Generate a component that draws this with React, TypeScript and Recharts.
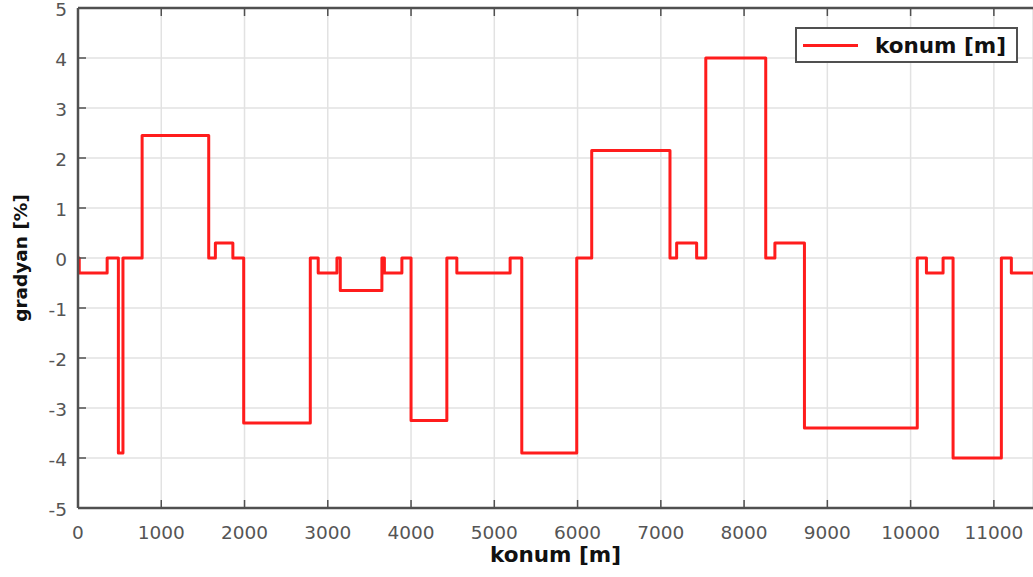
import React from "react";
import {
  LineChart, Line, XAxis, YAxis, CartesianGrid, ReferenceLine,
} from "recharts";

// step profile: segment start positions [m] and the grade [%] held from each start
const segStarts = [
  0, 15, 350, 485, 540, 770, 1570, 1650, 1860, 1990, 2790, 2885, 3110, 3150,
  3650, 3680, 3890, 4000, 4430, 4550, 5190, 5330, 5990, 6170, 7110, 7190,
  7430, 7540, 8260, 8370, 8725, 10080, 10190, 10390, 10510, 11090, 11210,
];
const segGrades = [
  0, -0.3, 0, -3.9, 0, 2.45, 0, 0.3, 0, -3.3, 0, -0.3, 0, -0.65,
  0, -0.3, 0, -3.25, 0, -0.3, 0, -3.9, 0, 2.15, 0, 0.3,
  0, 4.0, 0, 0.3, -3.4, 0, -0.3, 0, -4.0, 0, -0.3,
];
const routeEnd = 11470;

const xTicks = [0, 1000, 2000, 3000, 4000, 5000, 6000, 7000, 8000, 9000, 10000, 11000];
const yTicks = [-5, -4, -3, -2, -1, 0, 1, 2, 3, 4, 5];

const AXIS = "#505050";
const TICK_TEXT = "#555555";
const RED = "#ff1c1c";
const TICK_FONT = "DejaVu Sans, Verdana, sans-serif";

// each segment contributes its start and end, so neighbours give vertical jumps
const profile: { konum: number; grade: number }[] = [];
segStarts.forEach((s, i) => {
  const e = i + 1 < segStarts.length ? segStarts[i + 1] : routeEnd;
  profile.push({ konum: s, grade: segGrades[i] });
  profile.push({ konum: e, grade: segGrades[i] });
});

const XTick = (p: any) => (
  <g>
    <line x1={p.x} x2={p.x} y1={p.y} y2={p.y - 8} stroke={AXIS} strokeWidth={1.5} />
    <text x={p.x} y={p.y + 31} textAnchor="middle" fill={TICK_TEXT}
      style={{ fontFamily: TICK_FONT, fontSize: 18.5 }}>
      {p.payload.value}
    </text>
  </g>
);

const YTick = (p: any) => (
  <g>
    <line x1={p.x} x2={p.x + 8} y1={p.y} y2={p.y} stroke={AXIS} strokeWidth={1.5} />
    <text x={p.x - 11} y={p.y + 8} textAnchor="end" fill={TICK_TEXT}
      style={{ fontFamily: TICK_FONT, fontSize: 18.5 }}>
      {p.payload.value}
    </text>
  </g>
);

const LegendBox = () => (
  <div
    style={{
      position: "absolute", left: 795, top: 27, width: 219, height: 32,
      border: `2px solid ${AXIS}`, background: "#fff",
      display: "flex", alignItems: "center",
    }}
  >
    <span style={{ display: "inline-block", width: 55, height: 3, background: RED, marginLeft: 6 }} />
    <span
      style={{
        marginLeft: 17, fontFamily: "DejaVu Sans, Verdana, sans-serif",
        fontWeight: 700, fontSize: 21.5, color: "#111", whiteSpace: "nowrap",
      }}
    >
      konum [m]
    </span>
  </div>
);

export default function App() {
  return (
    <div style={{ position: "absolute", left: 0, top: 0, width: 1033, height: 577, background: "#fff", overflow: "hidden" }}>
      <LineChart width={1033} height={577} data={profile}
        margin={{ top: 8, right: 0, bottom: 0, left: 0 }}>
        <CartesianGrid stroke="#e2e2e2" strokeWidth={1.5} />
        <XAxis
          dataKey="konum"
          type="number"
          domain={[0, routeEnd]}
          ticks={xTicks}
          allowDataOverflow
          height={69}
          tickSize={0}
          tickMargin={0}
          tickLine={false}
          axisLine={{ stroke: AXIS, strokeWidth: 2.5 }}
          tick={<XTick />}
          interval={0}
          label={{
            value: "konum [m]", position: "insideBottom", offset: 15,
            style: { fontFamily: "DejaVu Sans, Verdana, sans-serif", fontWeight: 700, fontSize: 21.5, fill: "#111" },
          }}
        />
        <YAxis
          type="number"
          domain={[-5, 5]}
          ticks={yTicks}
          width={78}
          tickSize={0}
          tickMargin={0}
          tickLine={false}
          axisLine={{ stroke: AXIS, strokeWidth: 2.5 }}
          tick={<YTick />}
          interval={0}
          label={{
            value: "gradyan [%]", angle: -90, position: "insideLeft", offset: 20,
            style: { textAnchor: "middle", fontFamily: "DejaVu Sans, Verdana, sans-serif", fontWeight: 700, fontSize: 18.5, fill: "#111" },
          }}
        />
        <ReferenceLine y={5} stroke={AXIS} strokeWidth={2.5} />
        {xTicks.map((t) => (
          <ReferenceLine key={t} segment={[{ x: t, y: 5 }, { x: t, y: 4.84 }]} stroke={AXIS} strokeWidth={1.5} />
        ))}
        <Line
          type="linear"
          dataKey="grade"
          name="konum [m]"
          stroke={RED}
          strokeWidth={3}
          strokeLinejoin="round"
          dot={false}
          isAnimationActive={false}
        />
      </LineChart>
      <LegendBox />
    </div>
  );
}
